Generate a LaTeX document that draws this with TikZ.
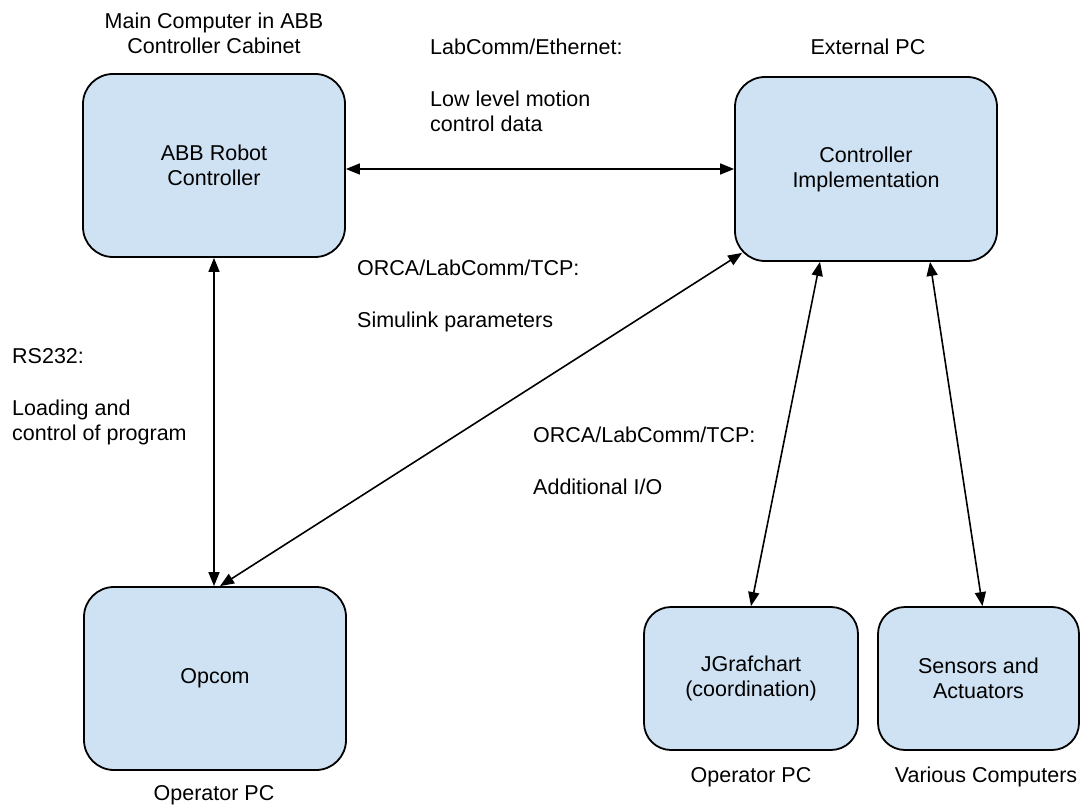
\documentclass[tikz,border=0pt]{standalone}
\usepackage{fontspec}
\setmainfont{Liberation Sans}
\usetikzlibrary{arrows.meta,calc}
\definecolor{boxblue}{HTML}{CFE2F3}
\newcommand{\gdfont}{\fontsize{21.5}{25}\selectfont}

\begin{document}
\begin{tikzpicture} [x=1pt,y=-1pt,
    station/.style={draw=black, fill=boxblue, line width=1.8pt, rounded corners=30pt,
                    minimum width=262pt, minimum height=183pt, align=center, font=\gdfont},
    device/.style={station, rounded corners=27pt, minimum height=143pt},
    note/.style={inner sep=0pt, align=left, font=\gdfont},
    link/.style={{Triangle[length=14pt,width=11pt]}-{Triangle[length=14pt,width=11pt]}, line width=1.6pt}]
    \useasboundingbox (0,0) rectangle (1082,805);
                      % boxes
    \node[station] (abb) at (214,165.5) {ABB Robot\\Controller}; % robot controller
    \node[station, minimum height=184pt] (impl) at (866,169) {Controller\\Implementation}; % external PC
    \node[station] (opcom) at (215,678.5) {Opcom}; % operator PC
    \node[device, minimum width=214pt] (jgraf) at (751,678.5) {JGrafchart\\(coordination)};
    \node[device, minimum width=201pt] (sens) at (978.5,678.5) {Sensors and\\Actuators};
                      % captions (anchored at the last line)
    \node[note, anchor=base, align=center] (cabinet) at (214,54) {Main Computer in ABB\\Controller Cabinet};
    \node[note, anchor=base] (extpc) at (868,55) {External PC};
    \node[note, anchor=base] (oppc) at (214,800) {Operator PC};
    \node[note, anchor=base] (oppcb) at (751,782) {Operator PC};
    \node[note, anchor=base] (various) at (986,782) {Various Computers};
                      % link labels
    \node[note, anchor=base west] (eth) at (430,132) {LabComm/Ethernet:\\[27pt]Low level motion\\control data};
    \node[note, anchor=base west] (orcaa) at (357,327) {ORCA/LabComm/TCP:\\[27pt]Simulink parameters};
    \node[note, anchor=base west] (rs) at (12,440) {RS232:\\[27pt]Loading and\\control of program};
    \node[note, anchor=base west] (orcab) at (533,494) {ORCA/LabComm/TCP:\\[27pt]Additional I/O};
                      % links
    \coordinate (corner) at ($(impl.south west)+(8,-9)$); % point on rounded corner
    \draw[link] (abb.east |- impl.west) -- (impl.west);
    \draw[link] (abb.south) -- (abb.south |- opcom.north);
    \draw[link] (corner) -- ([xshift=5pt]opcom.north);
    \draw[link] ([xshift=-46pt]impl.south) -- (jgraf.north);
    \draw[link] ([xshift=64pt]impl.south) -- ([xshift=4pt]sens.north);
\end{tikzpicture}
\end{document}
